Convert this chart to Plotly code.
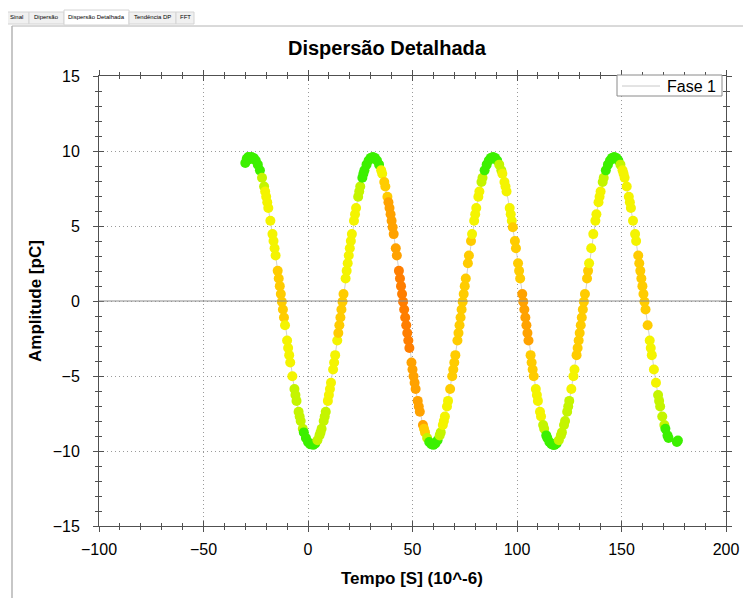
import plotly.graph_objects as go

tempo = [
    -30.0, -29.3, -28.6, -27.9, -27.0, -26.0, -25.0, -24.0, -23.0, -22.0, -21.0, -20.5, -20.0, -19.5, -19.0,
    -18.0, -17.0, -16.5, -16.0, -15.5, -14.5, -14.0, -13.5, -13.0, -12.5, -12.0, -11.5, -11.0, -10.0, -9.5,
    -9.0, -8.5, -7.5, -6.5, -6.0, -5.5, -4.5, -4.0, -3.5, -2.5, -2.0, -1.0, 0.0, 1.0,
    2.5, 3.5, 4.5, 5.5, 6.0, 6.5, 7.5, 8.0, 8.5, 9.5, 10.0, 10.5, 11.0, 12.0, 12.5,
    13.0, 14.0, 14.5, 15.0, 15.5, 16.0, 16.5, 17.0, 18.0, 18.5, 19.0, 19.5, 20.0, 20.5, 21.0,
    22.0, 22.5, 23.0, 24.0, 24.5, 25.0, 26.0, 26.5, 27.0, 28.0, 29.0, 30.0, 31.0,
    32.0, 33.0, 34.0, 35.0, 35.5, 36.5, 37.0, 38.0, 38.5, 39.0, 39.5, 40.0, 40.5, 41.0, 42.0,
    42.5, 43.5, 44.0, 44.5, 45.0, 45.5, 46.0, 46.5, 47.0, 47.5, 48.0, 48.5, 49.5, 50.0, 50.5,
    51.0, 51.5, 52.5, 53.0, 53.5, 55.0, 55.5, 56.0, 57.0, 58.0, 59.0,
    60.0, 61.0, 62.0, 63.0, 63.5, 64.5, 65.0, 65.5, 66.5, 67.0, 68.0, 69.0, 69.5, 70.0, 70.5,
    71.5, 72.0, 72.5, 73.0, 73.5, 74.0, 74.5, 75.0, 75.5, 76.5, 77.0, 78.0, 78.5, 79.5, 80.0,
    80.5, 81.5, 82.0, 83.0, 83.5, 84.5, 85.5, 86.5, 87.5, 88.5,
    89.5, 90.5, 91.5, 92.5, 93.0, 94.0, 94.5, 95.0, 96.5, 97.0, 97.5, 98.0, 99.0, 99.5, 100.5,
    101.0, 101.5, 102.5, 103.0, 103.5, 104.0, 104.5, 105.0, 105.5, 106.5, 107.0, 107.5, 108.0, 109.0, 109.5,
    110.0, 111.0, 111.5, 112.5, 113.0, 114.0, 114.5, 115.5, 116.5, 117.4,
    118.0, 119.0, 120.0, 121.0, 121.5, 122.5, 123.0, 124.0, 124.5, 125.0, 126.0, 127.0, 127.5, 128.5, 129.0,
    129.5, 130.0, 130.5, 131.0, 131.5, 132.0, 132.5, 133.5, 134.0, 134.5, 135.5, 136.5, 137.5, 138.0, 139.0,
    139.5, 140.0, 141.0, 141.5, 142.5, 143.5, 144.5, 145.5, 146.5,
    147.5, 148.5, 149.5, 150.5, 151.0, 151.5, 152.5, 153.5, 154.0, 154.5, 155.5, 156.5, 157.0, 158.0, 158.5,
    159.0, 159.5, 160.0, 160.5, 161.0, 161.5, 162.5, 163.5, 164.0, 164.5, 165.5, 166.5, 167.5, 168.0, 168.5,
    169.5, 170.5, 171.0, 172.0, 172.5, 176.5, 177.0,
]

amplitude = [
    9.20, 9.48, 9.60, 9.45, 9.60, 9.54, 9.37, 9.09, 8.71, 8.22, 7.63, 7.30, 6.95, 6.58, 6.20,
    5.35, 4.46, 4.00, 3.52, 3.03, 2.01, 1.50, 0.99, 0.47, -0.05, -0.57, -1.10, -1.62, -2.63, -3.13,
    -3.61, -4.10, -5.02, -5.87, -6.27, -6.66, -7.38, -7.70, -8.00, -8.52, -8.76, -9.13, -9.40, -9.55,
    -9.59, -9.49, -9.28, -8.96, -8.76, -8.52, -8.00, -7.70, -7.38, -6.66, -6.27, -5.87, -5.45, -4.57, -4.10,
    -3.61, -2.63, -2.13, -1.62, -1.10, -0.57, -0.05, 0.47, 1.50, 2.01, 2.52, 3.03, 3.52, 4.00, 4.46,
    5.35, 5.78, 6.20, 6.95, 7.30, 7.63, 8.22, 8.48, 8.71, 9.09, 9.37, 9.54, 9.60,
    9.54, 9.37, 9.09, 8.71, 8.48, 7.93, 7.63, 6.95, 6.58, 6.20, 5.78, 5.35, 4.92, 4.46, 3.52,
    3.03, 2.01, 1.50, 0.99, 0.47, -0.05, -0.57, -1.10, -1.62, -2.13, -2.63, -3.13, -4.10, -4.57, -5.02,
    -5.45, -5.87, -6.66, -7.03, -7.38, -8.27, -8.52, -8.76, -9.13, -9.40, -9.55,
    -9.59, -9.49, -9.28, -8.96, -8.76, -8.27, -8.00, -7.70, -7.03, -6.66, -5.87, -5.02, -4.57, -4.10, -3.61,
    -2.63, -2.13, -1.62, -1.10, -0.57, -0.05, 0.47, 0.99, 1.50, 2.52, 3.03, 4.00, 4.46, 5.35, 5.78,
    6.20, 6.95, 7.30, 7.93, 8.22, 8.71, 9.09, 9.37, 9.54, 9.60,
    9.54, 9.37, 9.09, 8.71, 8.48, 7.93, 7.63, 7.30, 6.20, 5.78, 5.35, 4.92, 4.00, 3.52, 2.52,
    2.01, 1.50, 0.47, -0.05, -0.57, -1.10, -1.62, -2.13, -2.63, -3.61, -4.10, -4.57, -5.02, -5.87, -6.27,
    -6.66, -7.38, -7.70, -8.27, -8.52, -8.96, -9.13, -9.40, -9.55, -9.60,
    -9.59, -9.49, -9.28, -8.96, -8.76, -8.27, -8.00, -7.38, -7.03, -6.66, -5.87, -5.02, -4.57, -3.61, -3.13,
    -2.63, -2.13, -1.62, -1.10, -0.57, -0.05, 0.47, 1.50, 2.01, 2.52, 3.52, 4.46, 5.35, 5.78, 6.58,
    6.95, 7.30, 7.93, 8.22, 8.71, 9.09, 9.37, 9.54, 9.60,
    9.54, 9.37, 9.09, 8.71, 8.48, 8.22, 7.63, 6.95, 6.58, 6.20, 5.35, 4.46, 4.00, 3.03, 2.52,
    2.01, 1.50, 0.99, 0.47, -0.05, -0.57, -1.62, -2.63, -3.13, -3.61, -4.57, -5.45, -6.27, -6.66, -7.03,
    -7.70, -8.27, -8.52, -8.96, -9.13, -9.40, -9.30,
]

# nivel de cor de cada ponto (0 = verde ... 5 = laranja escuro)
nivel = [
    0, 0, 0, 0, 0, 0, 0, 0, 0, 1, 1, 2, 2, 2, 2,
    2, 2, 2, 2, 2, 3, 3, 3, 3, 3, 3, 3, 2, 2, 2,
    2, 2, 2, 1, 1, 1, 1, 1, 1, 1, 0, 0, 0, 0,
    0, 0, 1, 1, 1, 1, 1, 1, 1, 2, 2, 2, 2, 2, 2,
    2, 2, 3, 3, 3, 3, 3, 3, 2, 2, 2, 2, 2, 2, 2,
    2, 2, 2, 1, 1, 1, 0, 0, 0, 0, 0, 0, 0,
    0, 0, 0, 2, 2, 3, 3, 3, 4, 4, 4, 4, 4, 4, 4,
    4, 5, 5, 5, 5, 5, 5, 5, 5, 5, 5, 5, 4, 4, 4,
    4, 4, 4, 4, 4, 4, 3, 3, 1, 0, 0,
    0, 0, 0, 1, 1, 2, 2, 2, 2, 2, 3, 3, 3, 3, 3,
    3, 3, 3, 3, 3, 3, 3, 3, 3, 3, 3, 3, 2, 2, 2,
    2, 2, 2, 1, 1, 0, 0, 0, 0, 0,
    0, 0, 1, 1, 2, 2, 2, 2, 2, 2, 2, 3, 3, 3, 3,
    3, 3, 4, 4, 4, 4, 4, 4, 4, 3, 3, 3, 3, 2, 2,
    2, 2, 2, 1, 1, 0, 0, 0, 0, 0,
    0, 0, 1, 1, 1, 1, 1, 1, 1, 1, 2, 2, 2, 3, 3,
    3, 3, 3, 3, 3, 3, 3, 3, 3, 2, 2, 2, 2, 2, 2,
    2, 2, 1, 1, 0, 0, 0, 0, 0,
    0, 0, 1, 2, 2, 2, 2, 2, 2, 2, 2, 2, 2, 3, 3,
    3, 3, 3, 3, 3, 3, 3, 2, 2, 2, 2, 2, 1, 1, 1,
    1, 1, 0, 0, 0, 0, 0,
]

abas = ["Sinal", "Dipersão", "Dispersão Detalhada", "Tendência DP", "FFT"]
serie = "Fase 1"

assert len(tempo) == len(amplitude) == len(nivel)

FONTE = "Liberation Sans, Arial, sans-serif"

# área do gráfico em pixels da página (a página tem 8px de margem no body)
L, R, T, B = 99, 726, 76, 526
OFF = 8
W, H = 751 - OFF, 598 - OFF


def px_x(px):
    return (px - L) / (R - L)


def px_y(py):
    return (B - py) / (B - T)


escala = [
    [0.0, "#3cf000"],
    [0.2, "#c4f500"],
    [0.4, "#f4f400"],
    [0.6, "#ffcc00"],
    [0.8, "#ffa200"],
    [1.0, "#ff7e00"],
]

fig = go.Figure()

fig.add_trace(go.Scatter(
    x = tempo,
    y = amplitude,
    mode = "lines+markers",
    line = dict(color = "#d2d2d2", width = 1),
    marker = dict(
        size = 10,
        color = nivel,
        colorscale = escala,
        cmin = 0,
        cmax = 5,
        line = dict(width = 0)
    ),
    name = serie,
    showlegend = False,
    hoverinfo = "x+y"
))

# eixo sobreposto para os ticks cruzados
fig.add_trace(go.Scatter(
    x = [None], y = [None], xaxis = "x2", yaxis = "y2",
    showlegend = False, hoverinfo = "skip"
))

eixo_comum = dict(
    showline = True,
    linecolor = "#505050",
    linewidth = 1,
    mirror = "allticks",
    tickcolor = "#505050",
    tickfont = dict(family = FONTE, size = 16, color = "black"),
)

fig.update_layout(
    width = W,
    height = H,
    margin = dict(l = L - OFF, r = W - (R - OFF), t = T - OFF, b = H - (B - OFF)),
    paper_bgcolor = "white",
    plot_bgcolor = "white",
    font = dict(family = FONTE, color = "black"),
    showlegend = False,
    xaxis = dict(
        range = [-100, 200], dtick = 50, tick0 = 0,
        ticks = "outside", ticklen = 5,
        showgrid = True, gridcolor = "#9a9a9a", griddash = "1px,3px", gridwidth = 1,
        zeroline = False,
        minor = dict(dtick = 10, ticks = "outside", ticklen = 3, tickcolor = "#505050", showgrid = False),
        ticklabelstandoff = 4,
        **eixo_comum
    ),
    yaxis = dict(
        range = [-15, 15], dtick = 5, tick0 = 0,
        ticks = "outside", ticklen = 5,
        showgrid = True, gridcolor = "#9a9a9a", griddash = "1px,3px", gridwidth = 1,
        zeroline = False,
        minor = dict(dtick = 1, ticks = "outside", ticklen = 3, tickcolor = "#505050", showgrid = False),
        ticklabelstandoff = 10,
        **eixo_comum
    ),
    xaxis2 = dict(
        overlaying = "x", anchor = "y2", side = "bottom",
        range = [-100, 200], dtick = 50, tick0 = 0,
        ticks = "inside", ticklen = 5, tickcolor = "#505050",
        mirror = "allticks", showline = False,
        showgrid = False, zeroline = False, showticklabels = False,
        minor = dict(dtick = 10, ticks = "inside", ticklen = 3, tickcolor = "#505050", showgrid = False),
    ),
    yaxis2 = dict(
        overlaying = "y", anchor = "x2", side = "left",
        range = [-15, 15], dtick = 5, tick0 = 0,
        ticks = "inside", ticklen = 5, tickcolor = "#505050",
        mirror = "allticks", showline = False,
        showgrid = False, zeroline = False, showticklabels = False,
        minor = dict(dtick = 1, ticks = "inside", ticklen = 3, tickcolor = "#505050", showgrid = False),
    ),
)

# linha do zero por cima dos pontos
fig.add_shape(type = "line", xref = "paper", yref = "y", x0 = 0, x1 = 1, y0 = 0, y1 = 0,
              line = dict(color = "#8c8c8c", width = 1.2), layer = "above")

# legenda desenhada (caixa, amostra da linha e texto)
fig.add_shape(type = "rect", xref = "paper", yref = "paper",
              x0 = px_x(617), x1 = px_x(722), y0 = px_y(96), y1 = px_y(75),
              fillcolor = "white", line = dict(color = "#8a8a8a", width = 1), layer = "above")
fig.add_shape(type = "line", xref = "paper", yref = "paper",
              x0 = px_x(622), x1 = px_x(660), y0 = px_y(86), y1 = px_y(86),
              line = dict(color = "#c8c8c8", width = 1), layer = "above")
fig.add_annotation(x = px_x(718), y = px_y(86), xref = "paper", yref = "paper",
                   text = serie, showarrow = False,
                   font = dict(family = FONTE, size = 16, color = "black"),
                   xanchor = "right", yanchor = "middle")

# moldura da janela
fig.add_shape(type = "line", xref = "paper", yref = "paper",
              x0 = px_x(12), x1 = px_x(12), y0 = px_y(26), y1 = px_y(600),
              line = dict(color = "#b4b4b4", width = 1.5))
fig.add_shape(type = "line", xref = "paper", yref = "paper",
              x0 = px_x(12), x1 = px_x(755), y0 = px_y(26), y1 = px_y(26),
              line = dict(color = "#b4b4b4", width = 1))

# abas
bordas = [3, 29, 64, 129, 176, 194]
for i, nome in enumerate(abas):
    ativa = i == 2
    fig.add_shape(type = "rect", xref = "paper", yref = "paper",
                  x0 = px_x(bordas[i]), x1 = px_x(bordas[i + 1]),
                  y0 = px_y(25 if ativa else 24), y1 = px_y(10 if ativa else 12),
                  fillcolor = "white" if ativa else "#f0f0f0",
                  line = dict(color = "#d4d4d4", width = 1))
    fig.add_annotation(x = px_x((bordas[i] + bordas[i + 1]) / 2), y = px_y(17),
                       xref = "paper", yref = "paper", text = nome, showarrow = False,
                       font = dict(family = FONTE, size = 6, color = "black"),
                       xanchor = "center", yanchor = "middle")

# título e rótulos dos eixos
fig.add_annotation(x = px_x(387), y = px_y(48), xref = "paper", yref = "paper",
                   text = "Dispersão Detalhada", showarrow = False,
                   font = dict(family = FONTE, size = 20, weight = "bold"),
                   xanchor = "center", yanchor = "middle")
fig.add_annotation(x = px_x(412), y = px_y(578), xref = "paper", yref = "paper",
                   text = "Tempo [S] (10^-6)", showarrow = False,
                   font = dict(family = FONTE, size = 17, weight = "bold"),
                   xanchor = "center", yanchor = "middle")
fig.add_annotation(x = px_x(35), y = px_y(301), xref = "paper", yref = "paper",
                   text = "Amplitude [pC]", showarrow = False, textangle = -90,
                   font = dict(family = FONTE, size = 17, weight = "bold"),
                   xanchor = "center", yanchor = "middle")

fig.write_html("out.html")
